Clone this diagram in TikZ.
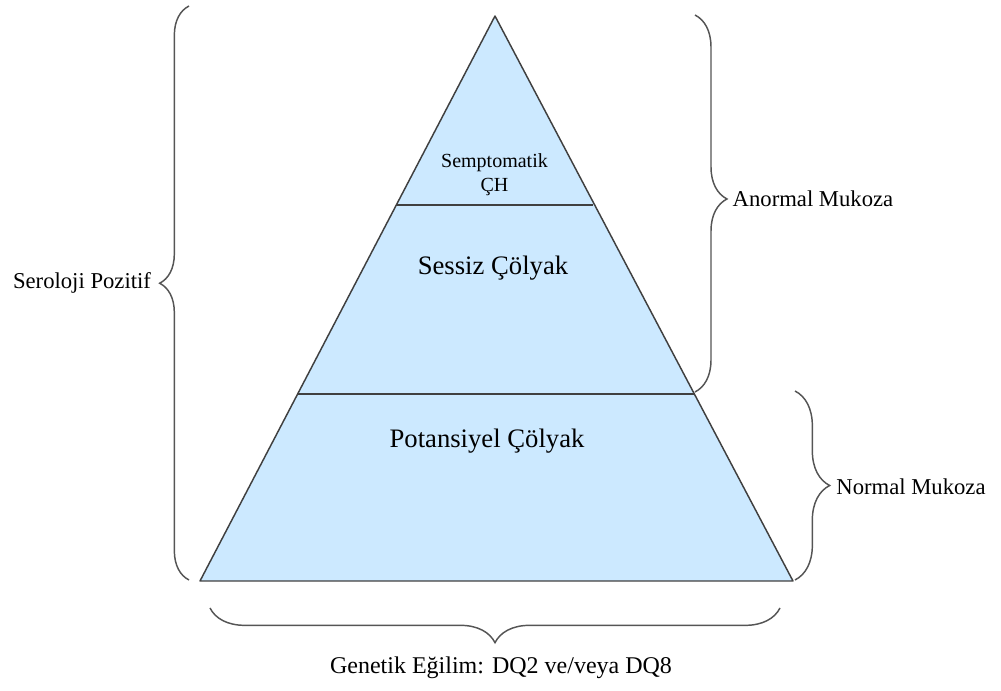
\documentclass[tikz,border=0pt]{standalone}
\usepackage{fontspec}
\setmainfont{Liberation Serif}
\usetikzlibrary{decorations.pathreplacing,positioning}

\definecolor{tierblue}{HTML}{CCE9FF}
\definecolor{edgegray}{HTML}{404040}
\definecolor{bracegray}{HTML}{555555}

\tikzset{
  tier/.style={fill=tierblue,draw=edgegray,line width=1.1pt,line join=round},
  divider/.style={draw=edgegray,line width=1.8pt},
  bracket/.style={decorate,decoration={brace,amplitude=#1},draw=bracegray,line width=1.1pt},
  sidelabel/.style={font=\fontsize{17}{20}\selectfont,inner sep=0pt},
  tierlabel/.style={font=\fontsize{20}{24}\selectfont,inner sep=0pt},
}

\begin{document}
\begin{tikzpicture}[x=0.75pt,y=-0.75pt]
\useasboundingbox (0,0) rectangle (1001,691);

% pyramid
\coordinate (apex) at (495,16);
\coordinate (baseL) at (200,581);
\coordinate (baseR) at (793,581);
\coordinate (topL) at (396.3,205);
\coordinate (topR) at (593.1,205);
\coordinate (midL) at (297.6,394);
\coordinate (midR) at (694.4,394);

\draw[tier] (apex) -- (baseR) -- (baseL) -- cycle;
\draw[divider] (topL) -- (topR);
\draw[divider] (midL) -- (midR);

\node[font=\fontsize{15}{18}\selectfont,align=center,inner sep=0pt] (symp) at (494.5,175) {Semptomatik\\ÇH};
\node[tierlabel] (silent) at (493,268) {Sessiz Çölyak};
\node[tierlabel] (potential) at (487,441) {Potansiyel Çölyak};

% braces
\coordinate (seroB) at (189,580);
\coordinate (seroT) at (189,6);
\coordinate (abnT) at (695,15);
\coordinate (abnB) at (695,392);
\coordinate (normT) at (795,391);
\coordinate (normB) at (795,580);
\coordinate (genR) at (780,608);
\coordinate (genL) at (210,608);

\draw[bracket=22,decoration={aspect=0.517}] (seroB) -- (seroT);
\draw[bracket=24,decoration={aspect=0.488}] (abnT) -- (abnB);
\draw[bracket=26] (normT) -- (normB);
\draw[bracket=26] (genR) -- (genL);

\node[sidelabel] (sero) at (82,283) {Seroloji Pozitif};
\node[sidelabel] (abnormal) at (813,199) {Anormal Mukoza};
\node[sidelabel] (normal) at (911,487) {Normal Mukoza};
\node[font=\fontsize{18}{22}\selectfont,inner sep=0pt] (genetic) at (501,668) {Genetik Eğilim: DQ2 ve/veya DQ8};
\end{tikzpicture}
\end{document}
